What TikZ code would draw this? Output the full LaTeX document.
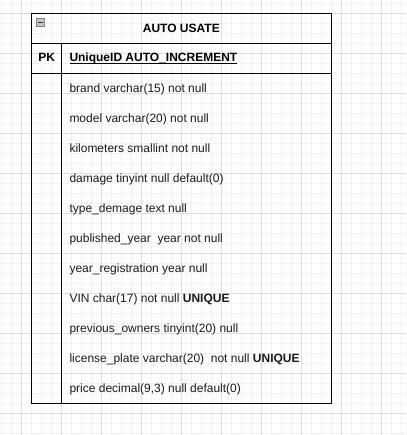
\documentclass[tikz,border=0pt]{standalone}
\usepackage{fontspec}
\setmainfont{Liberation Sans}
\begin{document}
\begin{tikzpicture}[x=1pt,y=-1pt,
  every node/.style={inner sep=0pt,outer sep=0pt,font=\fontsize{12}{14}\selectfont},
  tbl/.style={line width=1pt,draw=black},
  minorgrid/.style={draw=black!5,line width=0.8pt},
  majorgrid/.style={draw=black!13,line width=0.8pt},
  fieldtxt/.style={anchor=base west,text=black!90}]
\useasboundingbox (0,0) rectangle (406,435);
% background grid
\foreach \x in {1.7,11.7,...,405} \draw[minorgrid] (\x,0) -- (\x,435);
\foreach \y in {3.3,13.3,...,435} \draw[minorgrid] (0,\y) -- (406,\y);
\foreach \x in {21.7,61.7,...,405} \draw[majorgrid] (\x,0) -- (\x,435);
\foreach \y in {13.3,53.3,...,435} \draw[majorgrid] (0,\y) -- (406,\y);
% table frame
\coordinate (tl) at (31.7,13.3);
\coordinate (br) at (331,403.3);
\draw[tbl] (tl) rectangle (br);
\coordinate (h1l) at (31.7,43.3);
\coordinate (h1r) at (331,43.3);
\coordinate (h2l) at (31.7,73.3);
\coordinate (h2r) at (331,73.3);
\coordinate (vt) at (61.7,43.3);
\coordinate (vb) at (61.7,403.3);
\draw[tbl] (h1l) -- (h1r);
\draw[tbl] (h2l) -- (h2r);
\draw[tbl] (vt) -- (vb);
% collapse icon
\node[draw=black!50,fill=black!22,line width=0.7pt,minimum width=8pt,minimum height=8pt] (icon) at (40.7,22.5) {};
\draw[line width=1pt,black!80] ([xshift=-2.5pt]icon.center) -- ([xshift=2.5pt]icon.center);
% title
\node[anchor=base,font=\fontsize{12}{14}\selectfont\bfseries] (title) at (181.3,32.4) {AUTO USATE};
% PK row
\node[anchor=base,font=\fontsize{12}{14}\selectfont\bfseries] (pk) at (46.7,62) {PK};
\node[anchor=base west,font=\fontsize{12}{14}\selectfont\bfseries] (uid) at (69.5,62) {UniqueID AUTO\_INCREMENT};
\draw[line width=1pt] ([yshift=-1.6pt]uid.base west) -- ([yshift=-1.6pt]uid.base east);
% fields
\node[fieldtxt] (f1) at (69.5,92.5) {brand varchar(15) not null};
\node[fieldtxt] (f2) at (69.5,122.5) {model varchar(20) not null};
\node[fieldtxt] (f3) at (69.5,152.5) {kilometers smallint not null};
\node[fieldtxt] (f4) at (69.5,182.5) {damage tinyint null default(0)};
\node[fieldtxt] (f5) at (69.5,212.5) {type\_demage text null};
\node[fieldtxt] (f6) at (69.5,242.5) {published\_year\ \ year not null};
\node[fieldtxt] (f7) at (69.5,272.5) {year\_registration year null};
\node[fieldtxt] (f8) at (69.5,302.5) {VIN char(17) not null \textbf{UNIQUE}};
\node[fieldtxt] (f9) at (69.5,332.5) {previous\_owners tinyint(20) null};
\node[fieldtxt] (f10) at (69.5,362.5) {license\_plate varchar(20)\ \ not null \textbf{UNIQUE}};
\node[fieldtxt] (f11) at (69.5,392.5) {price decimal(9,3) null default(0)};
\end{tikzpicture}
\end{document}
